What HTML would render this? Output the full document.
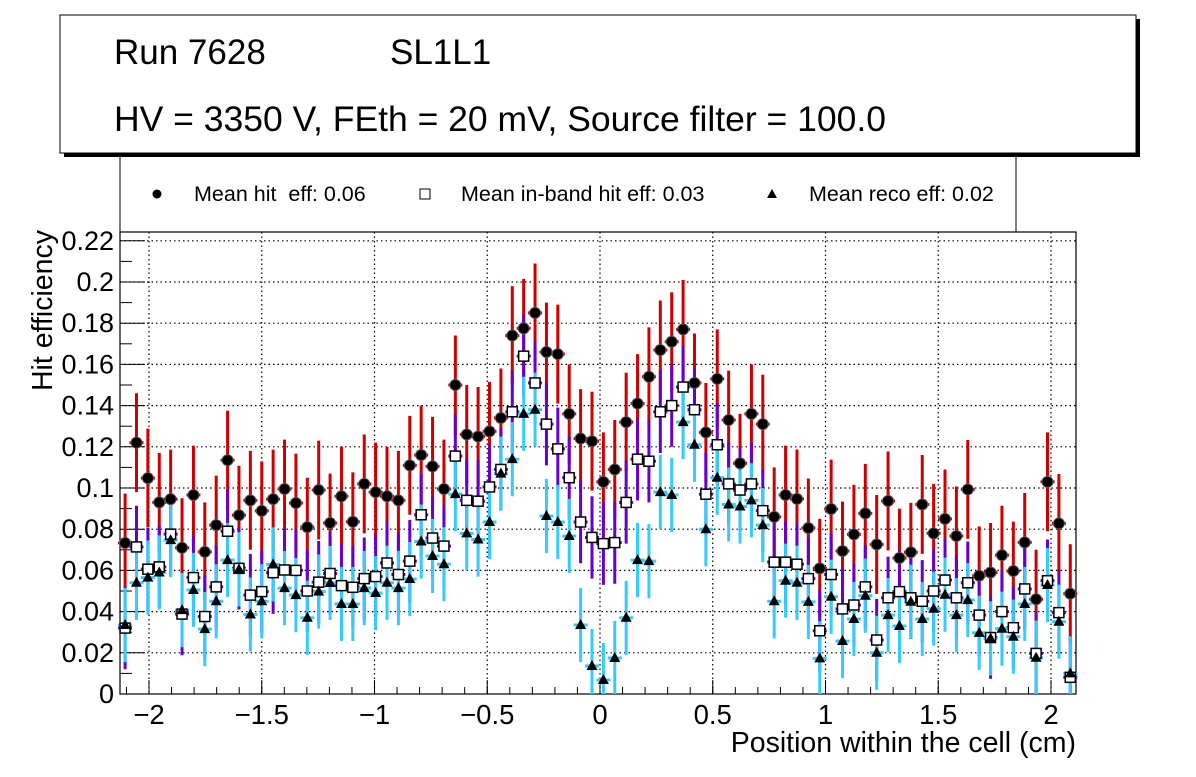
<!DOCTYPE html>
<html><head><meta charset="utf-8"><style>
body{margin:0;background:#fff;width:1196px;height:772px;overflow:hidden;font-family:"Liberation Sans",sans-serif}
</style></head><body>
<svg id="c" width="1196" height="772" xmlns="http://www.w3.org/2000/svg" font-family="Liberation Sans, sans-serif">
<rect x="64" y="19" width="1076" height="138" fill="#000"/>
<rect x="60" y="15" width="1076" height="138" fill="#fff" stroke="#000" stroke-width="1"/>
<text x="114" y="64" font-size="35">Run 7628</text>
<text x="390" y="64" font-size="35">SL1L1</text>
<text x="114" y="131" font-size="35.5">HV = 3350 V, FEth = 20 mV, Source filter = 100.0</text>
<path d="M120 157 V232 H1016 V157" fill="#fff" stroke="#000"/>
<g id="legend">
<circle cx="157" cy="194" r="4.5" fill="#000"/>
<text x="194" y="201" font-size="21.5" xml:space="preserve">Mean hit  eff: 0.06</text>
<rect x="420" y="189" width="10" height="10" fill="#fff" stroke="#000"/>
<text x="461" y="201" font-size="21.5">Mean in-band hit eff: 0.03</text>
<path d="M772 189 L777 198 L767 198 Z" fill="#000"/>
<text x="809" y="201" font-size="21.5">Mean reco eff: 0.02</text>
</g>
<g id="grid"></g><g id="axes"></g><g id="marks"></g>
<text x="1076" y="752" font-size="28.5" text-anchor="end">Position within the cell (cm)</text>
<text transform="translate(52,230) rotate(-90)" font-size="28.5" text-anchor="end">Hit efficiency</text>
</svg>
<script>
const xStart=-2.106, xStep=0.0505;
const hitEff=[0.0733,0.122,0.1048,0.093,0.0946,0.071,0.0966,0.069,0.082,0.1135,0.0868,0.094,0.0889,0.0946,0.0995,0.0927,0.081,0.099,0.083,0.096,0.0836,
0.102,0.098,0.096,0.094,0.111,0.116,0.1105,0.0995,0.150,0.126,0.125,0.1275,0.134,0.174,0.1775,0.185,0.166,0.165,0.136,0.124,0.1227,
0.103,0.109,0.132,0.141,0.154,0.167,0.171,0.177,0.151,0.127,0.153,0.133,0.112,0.136,0.131,0.086,0.0966,0.0947,0.0806,
0.061,0.0898,0.0694,0.0775,0.0877,0.0726,0.0937,0.066,0.0688,0.092,0.078,0.085,0.0767,0.0993,0.0574,0.059,0.0674,0.0597,0.0736,0.046,0.103,0.0828,0.0487];
const inbandEff=[0.032,0.0714,0.0606,0.0617,0.0776,0.0388,0.0565,0.0376,0.052,0.079,0.061,0.048,0.0497,0.0589,0.0602,0.060,0.050,0.0543,0.0585,0.0526,0.0518,
0.056,0.057,0.0636,0.058,0.0645,0.087,0.0757,0.0718,0.1155,0.094,0.0936,0.1005,0.109,0.137,0.164,0.151,0.131,0.119,0.105,0.0835,0.076,
0.073,0.0735,0.093,0.114,0.113,0.137,0.140,0.149,0.138,0.097,0.121,0.102,0.099,0.102,0.089,0.064,0.064,0.063,0.056,
0.0307,0.058,0.0413,0.0432,0.052,0.0262,0.0467,0.0497,0.0467,0.045,0.050,0.0553,0.0467,0.054,0.0383,0.0274,0.040,0.0322,0.051,0.0197,0.055,0.0395,0.0081];
const recoEff=[0.0335,0.054,0.0565,0.059,0.0747,0.0407,0.0505,0.0315,0.045,0.065,0.0605,0.0386,0.045,0.0629,0.0514,0.048,0.037,0.0497,0.0539,0.0437,0.0437,
0.0514,0.049,0.054,0.0514,0.0558,0.074,0.067,0.063,0.097,0.078,0.075,0.0835,0.107,0.114,0.136,0.138,0.0864,0.0835,0.0767,0.0335,0.0136,
0.0068,0.0175,0.037,0.065,0.0645,0.098,0.0966,0.132,0.121,0.080,0.105,0.092,0.091,0.094,0.082,0.045,0.055,0.054,0.0447,
0.0173,0.0472,0.0257,0.0364,0.0477,0.02,0.0383,0.033,0.0448,0.0364,0.0414,0.0482,0.0383,0.0456,0.0297,0.027,0.0317,0.0278,0.0437,0.0176,0.0529,0.0351,0.01];
const hitErr=0.024, inbandErr=0.02, recoErr=0.018;
const xTicks=[-2,-1.5,-1,-0.5,0,0.5,1,1.5,2];
const xTickLabels=["\u22122","\u22121.5","\u22121","\u22120.5","0","0.5","1","1.5","2"];
const yTicks=[0,0.02,0.04,0.06,0.08,0.1,0.12,0.14,0.16,0.18,0.2,0.22];
const yTickLabels=["0","0.02","0.04","0.06","0.08","0.1","0.12","0.14","0.16","0.18","0.2","0.22"];

const L=120,R=1076,T=232,B=694;
const sx=v=>600+v*225.5;
const sy=v=>694-v*2060;
const NS="http://www.w3.org/2000/svg";
function mk(tag,attrs,parent){const e=document.createElementNS(NS,tag);for(const k in attrs)e.setAttribute(k,attrs[k]);parent.appendChild(e);return e;}
const grid=document.getElementById('grid'),axes=document.getElementById('axes'),marks=document.getElementById('marks');
xTicks.forEach((t,i)=>{
  const g=mk('line',{x1:sx(t),x2:sx(t),y1:T,y2:B,stroke:'#000','stroke-dasharray':'1.5,3','stroke-width':1.2},grid);
  
  
  const tk=mk('line',{x1:sx(t),x2:sx(t),y1:B,y2:B-14,stroke:'#000'},axes);
  
  
  const lb=mk('text',{x:sx(t),y:724,'font-size':27.5,'text-anchor':'middle'},axes);
  lb.textContent=xTickLabels[i];
  
  
});
for(let v=-2.1;v<=2.1;v+=0.1){const x=sx(v);const m=mk('line',{x1:x,x2:x,y1:B,y2:B-7,stroke:'#000'},axes);
  
  }
yTicks.forEach((t,i)=>{
  if(t>0){const g=mk('line',{x1:L,x2:R,y1:sy(t),y2:sy(t),stroke:'#000','stroke-dasharray':'1.5,3','stroke-width':1.2},grid);
  
  }
  const tk=mk('line',{x1:L,x2:L+25,y1:sy(t),y2:sy(t),stroke:'#000'},axes);
  
  
  const lb=mk('text',{x:114,y:sy(t)+9,'font-size':27,'text-anchor':'end'},axes);
  lb.textContent=yTickLabels[i];
  
  
});
for(let v=0.01;v<0.225;v+=0.02){const m=mk('line',{x1:L,x2:L+12,y1:sy(v),y2:sy(v),stroke:'#000'},axes);
  
  }
const fr=mk('rect',{x:L,y:T,width:R-L,height:B-T,fill:'none',stroke:'#000','stroke-width':1.2},axes);



function bars(vals,err,color,name){
  vals.forEach((v,i)=>{const x=sx(xStart+i*xStep);
    const e=mk('line',{x1:x,x2:x,y1:sy(Math.max(0,v-err)),y2:sy(v+err),stroke:color,'stroke-width':3},marks);
    
    
    const h=mk('line',{x1:x-7,x2:x+7,y1:sy(v),y2:sy(v),stroke:color,'stroke-width':3},marks);
    
    
  });
}
bars(hitEff,hitErr,'#cc0000','hit');
bars(inbandEff,inbandErr,'#6600cc','inband');
bars(recoEff,recoErr,'#33ccff','reco');
hitEff.forEach((v,i)=>{const c=mk('circle',{cx:sx(xStart+i*xStep),cy:sy(v),r:5.5,fill:'#000',stroke:'#555','stroke-width':1},marks);
  
  });
inbandEff.forEach((v,i)=>{const x=sx(xStart+i*xStep),y=sy(v);const r=mk('rect',{x:x-5,y:y-5,width:10,height:10,fill:'#fff',stroke:'#000','stroke-width':1.5},marks);
  
  });
recoEff.forEach((v,i)=>{const x=sx(xStart+i*xStep),y=sy(v);const p=mk('path',{d:`M${x} ${y-6} L${x+5.5} ${y+4} L${x-5.5} ${y+4} Z`,fill:'#000'},marks);
  
  });
</script>
</body></html>
